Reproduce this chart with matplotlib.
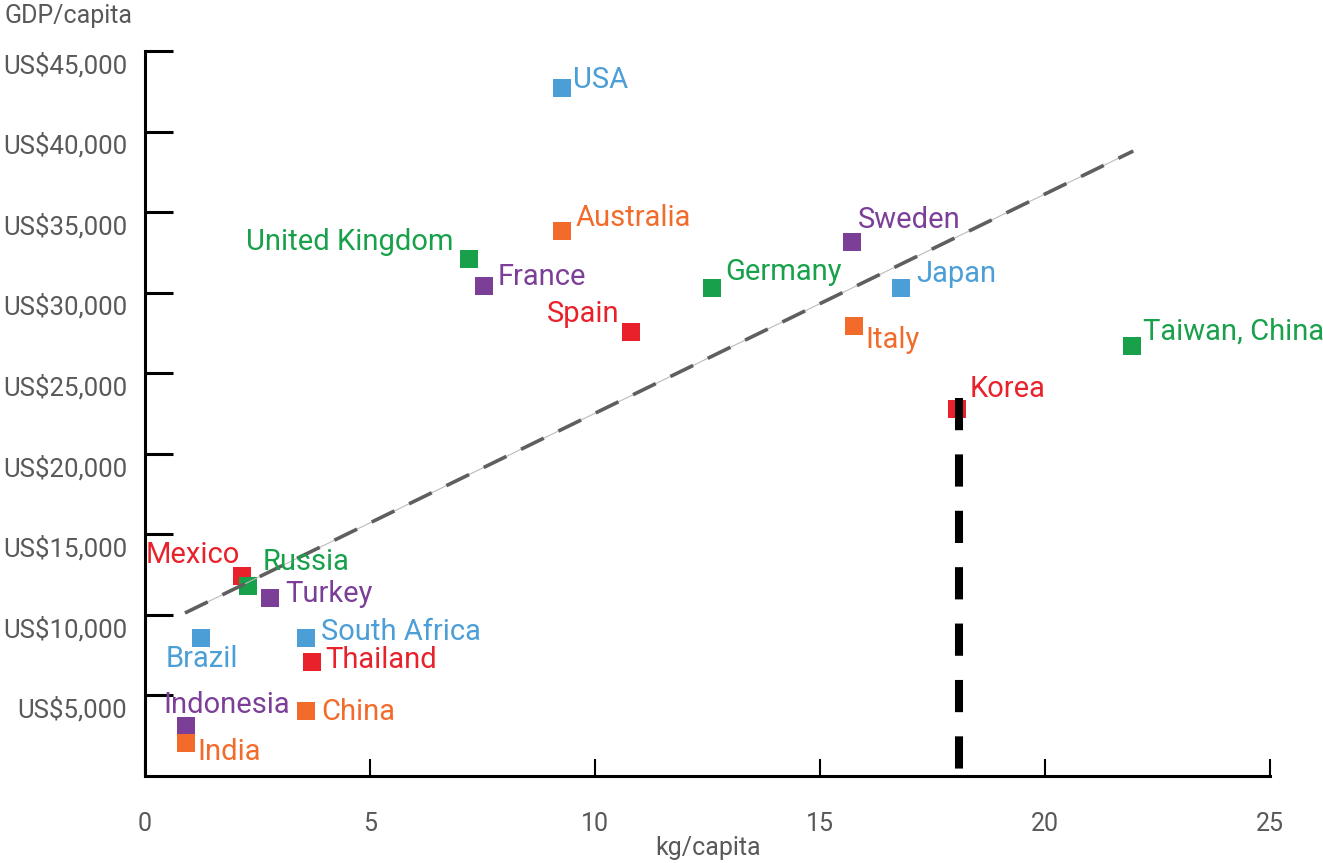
import matplotlib.pyplot as plt
import matplotlib.transforms as mtransforms

plt.rcParams['font.family'] = ['Roboto', 'DejaVu Sans']

# data: kg/capita vs GDP/capita (US$)
countries = ['USA', 'Australia', 'United Kingdom', 'France', 'Spain', 'Germany',
             'Sweden', 'Japan', 'Italy', 'Taiwan, China', 'Korea', 'Mexico',
             'Russia', 'Turkey', 'Brazil', 'South Africa', 'Thailand',
             'Indonesia', 'India', 'China']
kg = [9.27, 9.27, 7.20, 7.53, 10.80, 12.60, 15.71, 16.80, 15.76, 21.93, 18.04,
      2.16, 2.29, 2.78, 1.24, 3.58, 3.71, 0.91, 0.91, 3.58]
gdp = [42700, 33850, 32100, 30430, 27580, 30310, 33170, 30310, 27950, 26710,
       22800, 12420, 11800, 11060, 8570, 8570, 7080, 3110, 2050, 4040]

blue, orange, green, purple, red = '#4b9ed6', '#f26b2b', '#18a04a', '#7b3f98', '#e8212b'
colors = [blue, orange, green, purple, red, green, purple, blue, orange, green,
          red, red, green, purple, blue, blue, red, purple, orange, orange]

# label offsets in pixels (dx, dy) and horizontal alignment
offsets = {
    'USA': (11, 0, 'left'), 'Australia': (13, 5, 'left'),
    'United Kingdom': (-16, 9, 'right'), 'France': (14, 1, 'left'),
    'Spain': (-11, 10, 'right'), 'Germany': (13, 8, 'left'),
    'Sweden': (6, 14, 'left'), 'Japan': (15, 6, 'left'),
    'Italy': (11, -22, 'left'), 'Taiwan, China': (11, 6, 'left'),
    'Korea': (13, 12, 'left'), 'Mexico': (-2, 13, 'right'),
    'Russia': (15, 16, 'left'), 'Turkey': (15, -4, 'left'),
    'Brazil': (-35, -29, 'left'), 'South Africa': (15, -2, 'left'),
    'Thailand': (13, -6, 'left'), 'Indonesia': (-23, 13, 'left'),
    'India': (11, -17, 'left'), 'China': (15, -9, 'left'),
}

# trend line end points and Korea marker line
trend_x = [0.89, 21.96]
trend_y = [10120, 38790]
korea_x = 18.09
korea_top = 23460

yticks = [5000, 10000, 15000, 20000, 25000, 30000, 35000, 40000, 45000]
ytick_labels = ['US$5,000', 'US$10,000', 'US$15,000', 'US$20,000', 'US$25,000',
                'US$30,000', 'US$35,000', 'US$40,000', 'US$45,000']
xticks = [0, 5, 10, 15, 20, 25]

fig = plt.figure(figsize=(13.23, 8.63), dpi=100)
ax = fig.add_axes([145 / 1323, 1 - 776 / 863, 1125 / 1323, 725 / 863])

ax.plot(trend_x, trend_y, color='#bbbbbb', lw=0.8, zorder=3)
ax.plot(trend_x, trend_y, color='#5f5f5f', lw=2.6, dashes=(7, 4.5), zorder=4)

for x, y, c in zip(kg, gdp, colors):
    ax.plot(x, y, 's', color=c, markersize=13, markeredgewidth=0, zorder=2)

ax.plot([korea_x, korea_x], [korea_top, 0], color='black', lw=5.8,
        dashes=(4, 3), solid_capstyle='butt', dash_capstyle='butt', zorder=5)

for name, x, y, c in zip(countries, kg, gdp, colors):
    dx, dy, ha = offsets[name]
    ax.annotate(name, (x, y), xytext=(dx, dy), textcoords='offset pixels',
                ha=ha, va='baseline', color=c, fontsize=21, zorder=6)

ax.set_xlim(0, 25)
ax.set_ylim(0, 45000)
ax.set_xticks(xticks)
ax.set_xticklabels([str(t) for t in xticks])
ax.set_yticks(yticks)
ax.set_yticklabels(ytick_labels)

for s in ['top', 'right']:
    ax.spines[s].set_visible(False)
for s in ['left', 'bottom']:
    ax.spines[s].set_linewidth(2.2)
    ax.spines[s].set_color('black')

ax.tick_params(axis='y', direction='in', length=20, width=2.2, pad=13,
               labelsize=18.5, labelcolor='#58595b')
ax.tick_params(axis='x', direction='in', length=12, width=1.5, pad=26,
               labelsize=18, labelcolor='#58595b')

# y labels sit slightly below their ticks
shift = mtransforms.ScaledTranslation(0, -12 / 100, fig.dpi_scale_trans)
for lab in ax.get_yticklabels():
    lab.set_transform(lab.get_transform() + shift)

fig.text(708 / 1323, 1 - 848 / 863, 'kg/capita', ha='center', va='center',
         fontsize=18, color='#58595b')
fig.text(5 / 1323, 1 - 16 / 863, 'GDP/capita', ha='left', va='center',
         fontsize=18, color='#58595b')

fig.savefig('out.png', dpi=100)
